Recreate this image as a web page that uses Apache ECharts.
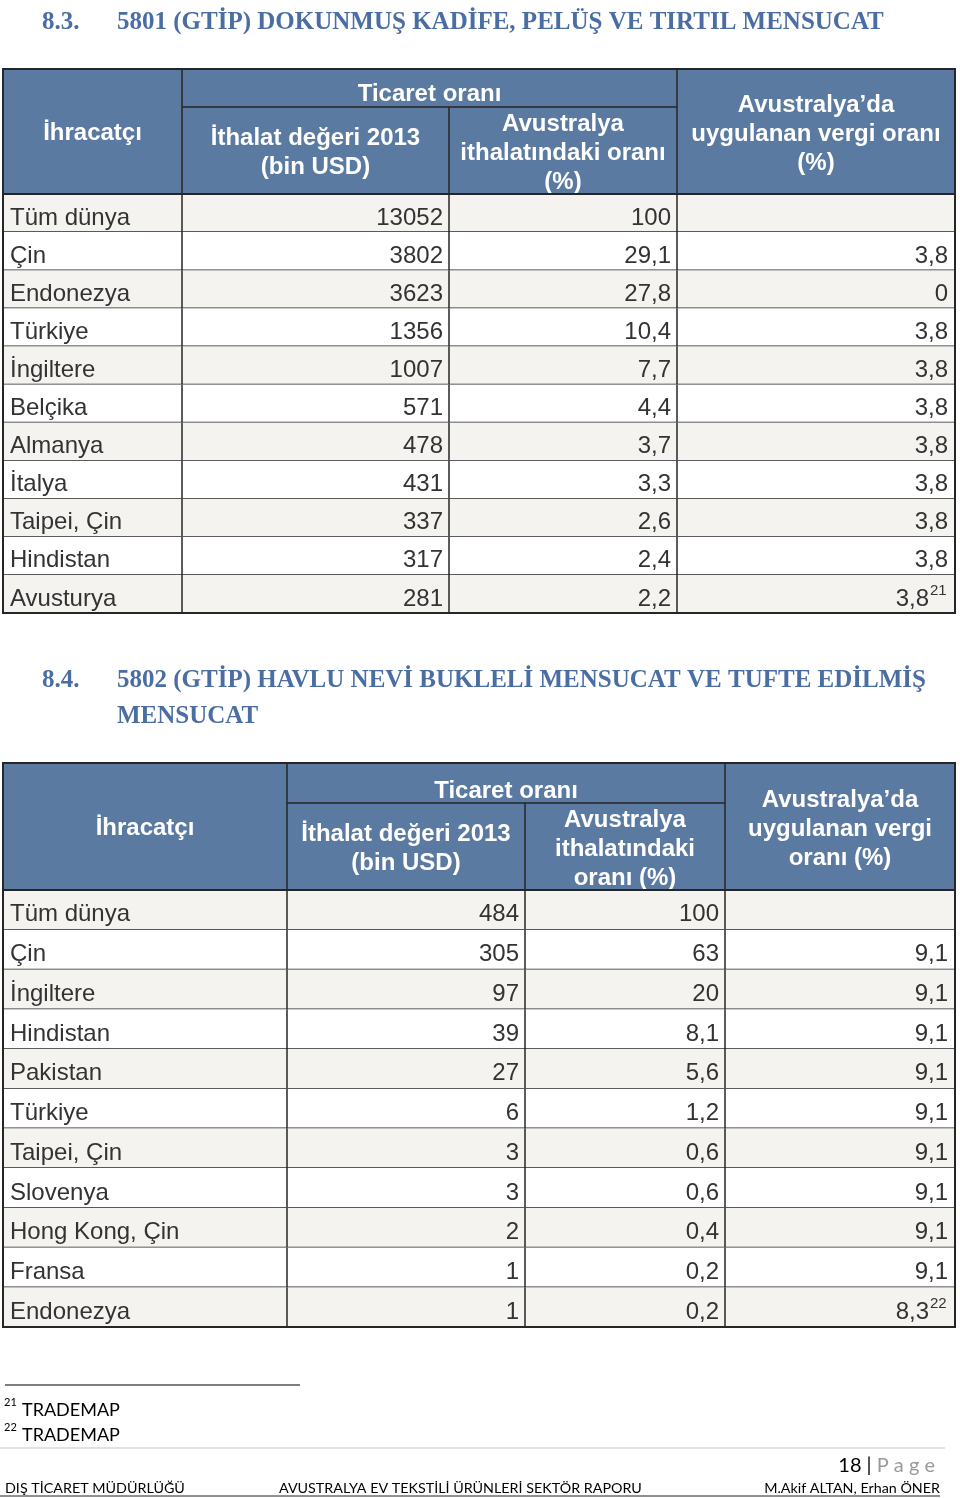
<!DOCTYPE html>
<html>
<head>
<meta charset="utf-8">
<script src="https://cdn.jsdelivr.net/npm/echarts@6/dist/echarts.min.js"></script>
<style>
  html, body { margin: 0; padding: 0; background: #fff; }
  #chart { width: 960px; height: 1498px; }
</style>
</head>
<body>
<div id="chart"></div>
<script>
// 8.3 - 5801
const names1 = ['Tüm dünya', 'Çin', 'Endonezya', 'Türkiye', 'İngiltere', 'Belçika', 'Almanya', 'İtalya', 'Taipei, Çin', 'Hindistan', 'Avusturya']
const imports1 = [13052, 3802, 3623, 1356, 1007, 571, 478, 431, 337, 317, 281]
const shares1 = [100, 29.1, 27.8, 10.4, 7.7, 4.4, 3.7, 3.3, 2.6, 2.4, 2.2]
const tariffs1 = [null, 3.8, 0, 3.8, 3.8, 3.8, 3.8, 3.8, 3.8, 3.8, 3.8]
const note1 = '21'

// 8.4 - 5802
const names2 = ['Tüm dünya', 'Çin', 'İngiltere', 'Hindistan', 'Pakistan', 'Türkiye', 'Taipei, Çin', 'Slovenya', 'Hong Kong, Çin', 'Fransa', 'Endonezya']
const imports2 = [484, 305, 97, 39, 27, 6, 3, 3, 2, 1, 1]
const shares2 = [100, 63, 20, 8.1, 5.6, 1.2, 0.6, 0.6, 0.4, 0.2, 0.2]
const tariffs2 = [null, 9.1, 9.1, 9.1, 9.1, 9.1, 9.1, 9.1, 9.1, 9.1, 8.3]
const note2 = '22'

const title1 = ['8.3.', '5801 (GTİP) DOKUNMUŞ KADİFE, PELÜŞ VE TIRTIL MENSUCAT']
const title2 = ['8.4.', '5802 (GTİP) HAVLU NEVİ BUKLELİ MENSUCAT VE TUFTE EDİLMİŞ', 'MENSUCAT']
const head1 = ['İhracatçı', 'Ticaret oranı', 'İthalat değeri 2013\n(bin USD)', 'Avustralya\nithalatındaki oranı\n(%)', 'Avustralya’da\nuygulanan vergi oranı\n(%)']
const head2 = ['İhracatçı', 'Ticaret oranı', 'İthalat değeri 2013\n(bin USD)', 'Avustralya\nithalatındaki\noranı (%)', 'Avustralya’da\nuygulanan vergi\noranı (%)']
const footnotes = [['21', 'TRADEMAP'], ['22', 'TRADEMAP']]
const footer = ['DIŞ TİCARET MÜDÜRLÜĞÜ', 'AVUSTRALYA EV TEKSTİLİ ÜRÜNLERİ SEKTÖR RAPORU', 'M.Akif ALTAN, Erhan ÖNER']
const pageNo = '18'

const SANS = '"Liberation Sans", Arial, sans-serif'
const SERIF = '"Liberation Serif", "Times New Roman", serif'
const FOOT = 'Lato, "Open Sans", sans-serif'
const HEAD_BG = '#5b7aa1'
const BORDER = '#262626'
const TITLE_COLOR = '#4a6da3'

// column edges inside each table (table spans 952px from x = 3)
const cols1 = [0, 179, 446, 674, 952]
const cols2 = [0, 284, 522, 722, 952]

function fmt(v) {
  return v === null ? '' : String(v).replace('.', ',')
}

function tableSeries(idx, names, imports, shares, tariffs, note, cols) {
  const last = names.length - 1
  return {
    type: 'custom',
    xAxisIndex: idx,
    yAxisIndex: idx,
    data: names.map((n, i) => [0, i]),
    encode: { x: 0, y: 1 },
    renderItem: (params, api) => {
      const i = params.dataIndex
      const center = api.coord([0, i])
      const band = api.size([0, 1])[1]
      const y0 = center[1] - band / 2
      const xs = cols.map(c => api.coord([c, i])[0])
      const ty = center[1] + 5
      const textStyle = { fill: '#333', font: `24px ${SANS}`, verticalAlign: 'middle' }
      const children = [
        {
          type: 'rect',
          shape: { x: xs[0], y: y0, width: xs[4] - xs[0], height: band },
          style: { fill: i % 2 ? '#ffffff' : '#f4f3ef' }
        },
        {
          type: 'line',
          shape: { x1: xs[0], y1: y0 + band, x2: xs[4], y2: y0 + band },
          style: { stroke: BORDER, lineWidth: 1.5 }
        }
      ]
      xs.forEach(x => {
        children.push({
          type: 'line',
          shape: { x1: x, y1: y0, x2: x, y2: y0 + band },
          style: { stroke: BORDER, lineWidth: 1.5 }
        })
      })
      children.push({
        type: 'text', x: xs[0] + 7, y: ty,
        style: Object.assign({ text: names[i], align: 'left' }, textStyle)
      })
      children.push({
        type: 'text', x: xs[2] - 6, y: ty,
        style: Object.assign({ text: fmt(imports[i]), align: 'right' }, textStyle)
      })
      children.push({
        type: 'text', x: xs[3] - 6, y: ty,
        style: Object.assign({ text: fmt(shares[i]), align: 'right' }, textStyle)
      })
      if (i === last) {
        children.push({
          type: 'text', x: xs[4] - 26, y: ty,
          style: Object.assign({ text: fmt(tariffs[i]), align: 'right' }, textStyle)
        })
        children.push({
          type: 'text', x: xs[4] - 25, y: ty - 8,
          style: { text: note, align: 'left', verticalAlign: 'middle', fill: '#333', font: `15px ${SANS}` }
        })
      } else {
        children.push({
          type: 'text', x: xs[4] - 7, y: ty,
          style: Object.assign({ text: fmt(tariffs[i]), align: 'right' }, textStyle)
        })
      }
      return { type: 'group', children }
    }
  }
}

function header(top, bottom, mid, xs, texts, ys) {
  const els = [
    { type: 'rect', shape: { x: xs[0], y: top, width: xs[4] - xs[0], height: bottom - top }, style: { fill: HEAD_BG, stroke: BORDER, lineWidth: 2 } },
    { type: 'line', shape: { x1: xs[1], y1: top, x2: xs[1], y2: bottom }, style: { stroke: BORDER, lineWidth: 1.5 } },
    { type: 'line', shape: { x1: xs[3], y1: top, x2: xs[3], y2: bottom }, style: { stroke: BORDER, lineWidth: 1.5 } },
    { type: 'line', shape: { x1: xs[2], y1: mid, x2: xs[2], y2: bottom }, style: { stroke: BORDER, lineWidth: 1.5 } },
    { type: 'line', shape: { x1: xs[1], y1: mid, x2: xs[3], y2: mid }, style: { stroke: BORDER, lineWidth: 1.5 } }
  ]
  const cx = [(xs[0] + xs[1]) / 2, (xs[1] + xs[3]) / 2, (xs[1] + xs[2]) / 2, (xs[2] + xs[3]) / 2, (xs[3] + xs[4]) / 2]
  texts.forEach((t, k) => {
    els.push({
      type: 'text', x: cx[k], y: ys[k] + 2,
      style: { text: t, fill: '#fff', font: `bold 24px ${SANS}`, align: 'center', verticalAlign: 'middle', lineHeight: 29 }
    })
  })
  return els
}

const titleFont = `bold 25px ${SERIF}`
const graphics = [
  { type: 'text', x: 42, y: 23, style: { text: title1[0], fill: TITLE_COLOR, font: titleFont, verticalAlign: 'middle' } },
  { type: 'text', x: 117, y: 23, style: { text: title1[1], fill: TITLE_COLOR, font: titleFont, verticalAlign: 'middle' } },
  { type: 'text', x: 42, y: 681, style: { text: title2[0], fill: TITLE_COLOR, font: titleFont, verticalAlign: 'middle' } },
  { type: 'text', x: 117, y: 681, style: { text: title2[1], fill: TITLE_COLOR, font: titleFont, verticalAlign: 'middle' } },
  { type: 'text', x: 117, y: 717, style: { text: title2[2], fill: TITLE_COLOR, font: titleFont, verticalAlign: 'middle' } },
  ...header(69, 194, 107, [3, 182, 449, 677, 955], head1, [131, 92, 150.5, 151, 132]),
  ...header(763, 890, 803, [3, 287, 525, 725, 955], head2, [826, 789, 846.5, 847, 827]),
  // outer frames of the body
  { type: 'rect', shape: { x: 3, y: 194, width: 952, height: 419 }, style: { fill: null, stroke: BORDER, lineWidth: 2 }, z: 100 },
  { type: 'rect', shape: { x: 3, y: 890, width: 952, height: 437 }, style: { fill: null, stroke: BORDER, lineWidth: 2 }, z: 100 },
  // footnotes
  { type: 'line', shape: { x1: 5, y1: 1385, x2: 300, y2: 1385 }, style: { stroke: '#000', lineWidth: 1.2 } },
  { type: 'line', shape: { x1: 0, y1: 1448, x2: 945, y2: 1448 }, style: { stroke: '#e2e2e2', lineWidth: 2 } },
  { type: 'line', shape: { x1: 0, y1: 1496, x2: 940, y2: 1496 }, style: { stroke: '#222', lineWidth: 1 } }
]
footnotes.forEach((f, k) => {
  const y = 1410 + k * 25
  graphics.push({ type: 'text', x: 4, y: y - 8, style: { text: f[0], fill: '#000', font: `11px ${FOOT}`, verticalAlign: 'middle' } })
  graphics.push({ type: 'text', x: 22, y, style: { text: f[1], fill: '#000', font: `18px ${FOOT}`, verticalAlign: 'middle' } })
})
graphics.push({
  type: 'text', x: 935, y: 1466,
  style: {
    text: `{n|${pageNo} | }{p|P a g e}`, align: 'right', verticalAlign: 'middle',
    rich: {
      n: { fill: '#000', font: `20px ${FOOT}` },
      p: { fill: '#9a9a9a', font: `20px ${FOOT}` }
    }
  }
})
const footX = [5, 279, 940]
const footAlign = ['left', 'left', 'right']
footer.forEach((t, k) => {
  graphics.push({ type: 'text', x: footX[k], y: 1488, style: { text: t, fill: '#000', font: `14.3px ${FOOT}`, align: footAlign[k], verticalAlign: 'middle' } })
})

const chart = echarts.init(document.getElementById('chart'), null, { renderer: 'canvas' })
chart.setOption({
  animation: false,
  backgroundColor: '#fff',
  grid: [
    { left: 3, top: 194, width: 952, height: 419 },
    { left: 3, top: 890, width: 952, height: 437 }
  ],
  xAxis: [
    { type: 'value', gridIndex: 0, min: 0, max: 952, show: false },
    { type: 'value', gridIndex: 1, min: 0, max: 952, show: false }
  ],
  yAxis: [
    { type: 'category', gridIndex: 0, data: names1, inverse: true, show: false },
    { type: 'category', gridIndex: 1, data: names2, inverse: true, show: false }
  ],
  series: [
    tableSeries(0, names1, imports1, shares1, tariffs1, note1, cols1),
    tableSeries(1, names2, imports2, shares2, tariffs2, note2, cols2)
  ],
  graphic: graphics
})
</script>
</body>
</html>
